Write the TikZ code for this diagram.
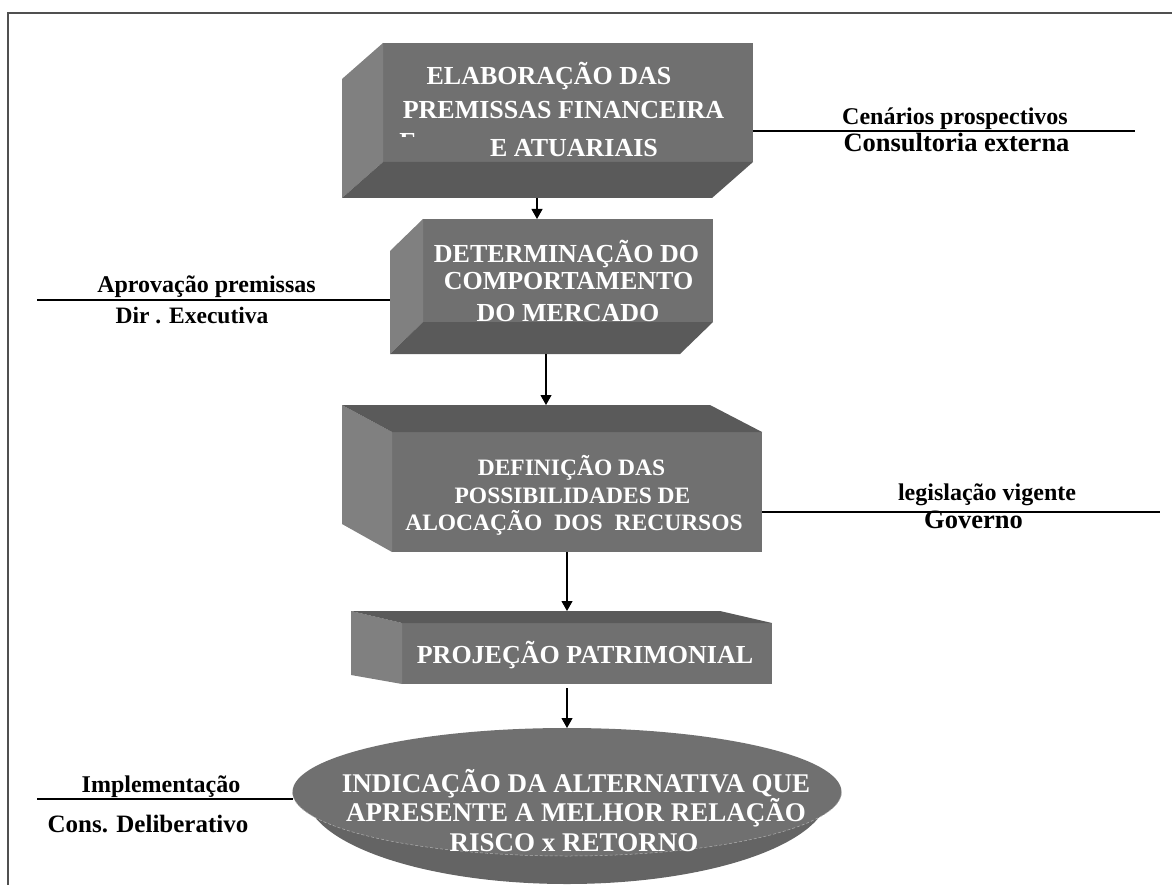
\documentclass[tikz,border=0pt]{standalone}
\usepackage{fontspec}
\setmainfont{Liberation Serif}
\usetikzlibrary{arrows.meta,calc,shapes.geometric,backgrounds}
\definecolor{facec}{RGB}{112,112,112}
\definecolor{sidec}{RGB}{128,128,128}
\definecolor{shadec}{RGB}{90,90,90}
\definecolor{bandc}{RGB}{100,100,100}
\definecolor{framec}{RGB}{80,80,80}
\newcommand{\txtsize}[1]{\fontsize{#1}{#1}\selectfont}
\begin{document}
\begin{tikzpicture}[x=1pt,y=-1pt,
  front/.style={fill=facec, inner sep=0, outer sep=0},
  boxtext/.style={text=white, font=\bfseries\txtsize{26}, inner sep=0, anchor=base},
  lab/.style={text=black, font=\bfseries\txtsize{24}, inner sep=0, anchor=base},
  conn/.style={line width=1.1pt, black},
  arr/.style={conn, -{Triangle[length=10pt,width=11pt]}},
  seam/.style={draw=gray!60, line width=0.5pt, dash pattern=on 3pt off 2pt}
]
\useasboundingbox (0,0) rectangle (1172,885);

% page frame
\draw[framec, line width=1.3pt] (8,885) -- (8,13) -- (1172,13);

% box 1: premissas
\node[front, minimum width=370, minimum height=119] (b1) at (568,102.5) {};
\fill[sidec] (b1.north west) -- ++(-41,36) -- ($(b1.south west)+(-41,36)$) -- (b1.south west) -- cycle;
\fill[shadec] (b1.south west) -- (b1.south east) -- ++(-41,36) -- ($(b1.south west)+(-41,36)$) -- cycle;
\node[boxtext] (b1l1) at (549,85) {ELABORAÇÃO DAS};
\node[boxtext] (b1l2) at (563.5,119) {PREMISSAS FINANCEIRA};
\node[boxtext] (b1l3) at (574,157) {E ATUARIAIS};
\begin{scope}
  \clip (396,131) rectangle (420,137);
  \node[boxtext] (b1frag) at (408,151) {E};
\end{scope}

% box 2: mercado
\node[front, minimum width=290, minimum height=103] (b2) at (568,270.5) {};
\fill[sidec] (b2.north west) -- ++(-33,32) -- ($(b2.south west)+(-33,32)$) -- (b2.south west) -- cycle;
\fill[shadec] (b2.south west) -- (b2.south east) -- ++(-33,32) -- ($(b2.south west)+(-33,32)$) -- cycle;
\coordinate (b2lf) at ($(b2.west)+(-33,0)$);
\node[boxtext] (b2l1) at (566.5,262) {DETERMINAÇÃO DO};
\node[boxtext] (b2l2) at (568.5,290) {COMPORTAMENTO};
\node[boxtext] (b2l3) at (568,321) {DO MERCADO};

% box 3: alocação
\node[front, minimum width=370, minimum height=120] (b3) at (577,492) {};
\fill[sidec] (b3.north west) -- ++(-50,-27) -- ($(b3.south west)+(-50,-28)$) -- (b3.south west) -- cycle;
\fill[shadec] (b3.north west) -- (b3.north east) -- ++(-52,-27) -- ($(b3.north west)+(-50,-27)$) -- cycle;
\node[boxtext, font=\bfseries\txtsize{23.5}] (b3l1) at (571.5,475) {DEFINIÇÃO DAS};
\node[boxtext, font=\bfseries\txtsize{23.5}] (b3l2) at (572.5,503) {POSSIBILIDADES DE};
\node[boxtext, font=\bfseries\txtsize{23.5}] (b3l3) at (574,530) {ALOCAÇÃO\hspace{12pt}DOS\hspace{12pt}RECURSOS};

% box 4: projeção
\node[front, minimum width=370, minimum height=61] (b4) at (587,653.5) {};
\fill[sidec] (b4.north west) -- ++(-51,-12) -- ($(b4.south west)+(-51,-9)$) -- (b4.south west) -- cycle;
\fill[shadec] (b4.north west) -- (b4.north east) -- ++(-52,-12) -- ($(b4.north west)+(-51,-12)$) -- cycle;
\node[boxtext] (b4l1) at (585,663) {PROJEÇÃO PATRIMONIAL};

% final disc: lighter top face over a darker rim
\node[ellipse, fill=facec, inner sep=0, outer sep=0, minimum width=549, minimum height=128] (el) at (567,792) {};
\begin{scope}[on background layer]
  \fill[bandc] (el.west) -- ($(el.center)+(-262,0)$) arc[start angle=180, end angle=0, x radius=262, y radius=92] -- (el.east) -- cycle;
\end{scope}
\draw[seam] (el.west) arc[start angle=180, end angle=0, x radius=274.5, y radius=64];
\node[boxtext, font=\bfseries\txtsize{27}] (ell1) at (576,792) {INDICAÇÃO DA ALTERNATIVA QUE};
\node[boxtext, font=\bfseries\txtsize{27}] (ell2) at (576,821) {APRESENTE A MELHOR RELAÇÃO};
\node[boxtext, font=\bfseries\txtsize{27}] (ell3) at (574,851) {RISCO x RETORNO};

% flow arrows
\draw[arr] ([shift={(-31,36)}]b1.south) -- ([xshift=-31pt]b2.north);
\draw[arr] ([shift={(-22,32)}]b2.south) -- ([shift={(-31,-27)}]b3.north);
\draw[arr] ([xshift=-10pt]b3.south) -- ([shift={(-20,-12)}]b4.north);
\draw[arr] ([shift={(-20,4)}]b4.south) -- (el.north);

% side annotations
\coordinate (r1) at (1135,131);
\draw[conn] (r1 -| b1.east) -- (r1);
\node[lab] (cen) at (955,125) {Cenários prospectivos};
\node[lab, font=\bfseries\txtsize{26.5}] (cons) at (956.5,152) {Consultoria externa};

\coordinate (l2) at (37,300);
\draw[conn] (l2) -- (l2 -| b2lf);
\node[lab] (apr) at (206.5,292) {Aprovação premissas};
\node[lab, font=\bfseries\txtsize{23.5}] (dir) at (192,323) {Dir . Executiva};

\coordinate (r3) at (1160,512);
\draw[conn] (r3 -| b3.east) -- (r3);
\node[lab] (leg) at (987,500) {legislação vigente};
\node[lab, font=\bfseries\txtsize{26.5}] (gov) at (973.5,528) {Governo};

\coordinate (l4) at (37,799);
\draw[conn] (l4) -- (l4 -| el.west);
\node[lab] (imp) at (161,792) {Implementação};
\node[lab, font=\bfseries\txtsize{25}] (cons2) at (148,832) {Cons. Deliberativo};
\end{tikzpicture}
\end{document}
